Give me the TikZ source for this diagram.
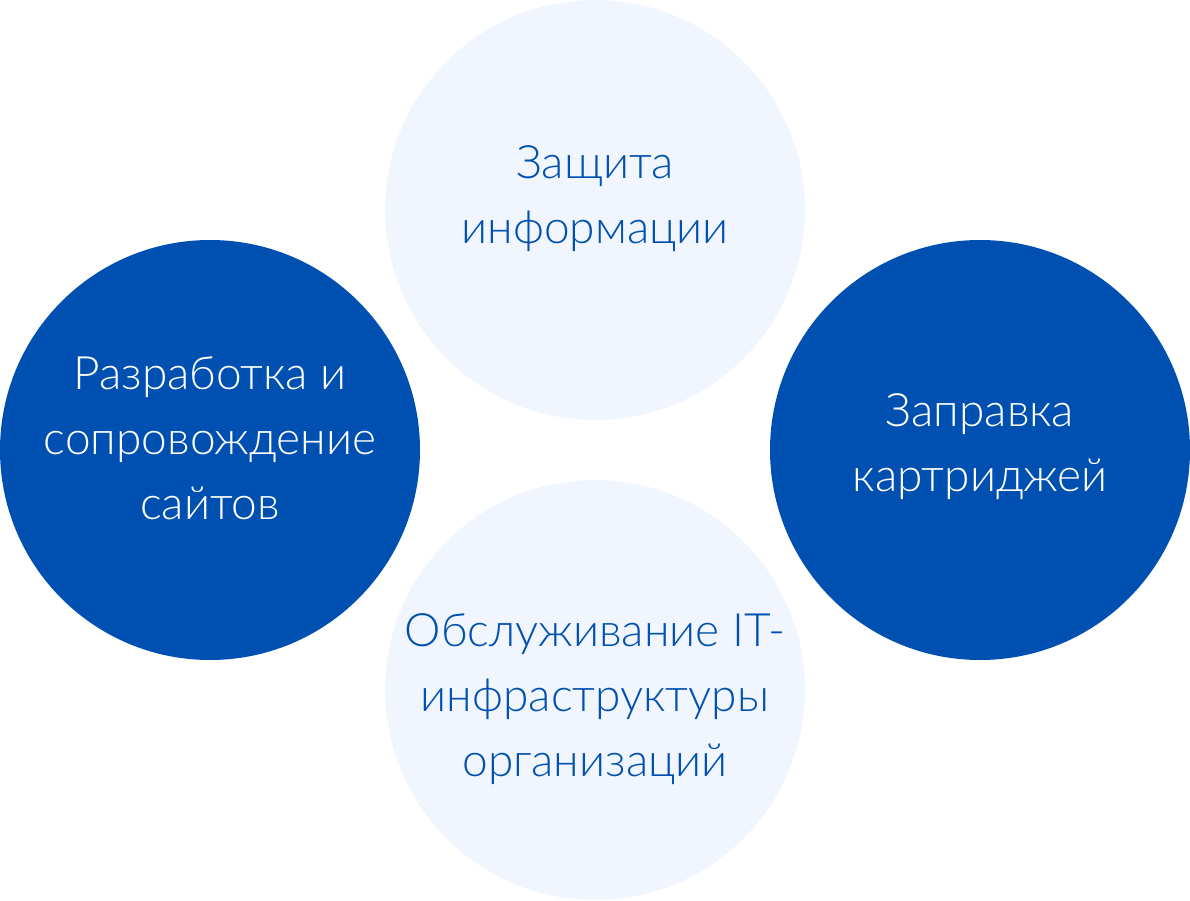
\documentclass[tikz,border=0pt]{standalone}
\usepackage{fontspec}
\setmainfont{Lato}[UprightFont=* Light]
\definecolor{darkblue}{HTML}{0050B2}
\definecolor{lightblue}{HTML}{F1F6FE}
\begin{document}
\begin{tikzpicture}[x=1pt,y=-1pt,
  lightc/.style={circle,fill=lightblue,minimum size=420pt,inner sep=0pt},
  darkc/.style={circle,fill=darkblue,minimum size=420pt,inner sep=0pt},
  lbl/.style={align=center,font=\fontsize{46}{65}\selectfont}]
\useasboundingbox (0,0) rectangle (1190,901);
\node[lightc] (top) at (595,210) {};
\node[lightc] (bot) at (595,690) {};
\node[darkc] (left) at (210,450) {};
\node[darkc] (right) at (980,450) {};
\node[lbl,text=darkblue] (ttop) at (595,199) {Защита\\информации};
\node[lbl,text=darkblue] (tbot) at (595,699) {Обслуживание IT-\\инфраструктуры\\организаций};
\node[lbl,text=white] (tleft) at (210,438) {Разработка и\\сопровождение\\сайтов};
\node[lbl,text=white] (tright) at (980,447) {Заправка\\картриджей};
\end{tikzpicture}
\end{document}
